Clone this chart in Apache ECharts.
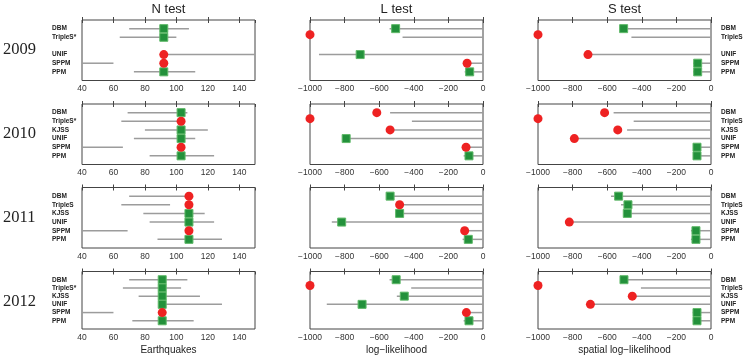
<!DOCTYPE html>
<html>
<head>
<meta charset="utf-8">
<script src="https://cdn.jsdelivr.net/npm/echarts@6/dist/echarts.min.js"></script>
<style>
  html, body { margin: 0; padding: 0; background: #fff; }
  #chart { width: 750px; height: 356px; }
</style>
</head>
<body>
<div id="chart"></div>
<script>
// rows per panel: DBM, TripleS, KJSS, UNIF, SPPM, PPM (null = model missing that year)
const years = ["2009", "2010", "2011", "2012"];
const nLabels = [
  ["DBM", "TripleS*", "", "UNIF", "SPPM", "PPM"],
  ["DBM", "TripleS*", "KJSS", "UNIF", "SPPM", "PPM"],
  ["DBM", "TripleS", "KJSS", "UNIF", "SPPM", "PPM"],
  ["DBM", "TripleS*", "KJSS", "UNIF", "SPPM", "PPM"]
];
const sLabels = [
  ["DBM", "TripleS", "", "UNIF", "SPPM", "PPM"],
  ["DBM", "TripleS", "KJSS", "UNIF", "SPPM", "PPM"],
  ["DBM", "TripleS", "KJSS", "UNIF", "SPPM", "PPM"],
  ["DBM", "TripleS", "KJSS", "UNIF", "SPPM", "PPM"]
];

// N test: observed count, and the forecast's range
const nValue = [
  [92, 92, null, 92, 92, 92],
  [103, 103, 103, 103, 103, 103],
  [108, 108, 108, 108, 108, 108],
  [91, 91, 91, 91, 91, 91]
];
const nLow = [
  [70, 64, null, 91, 40, 73],
  [69, 65, 80, 73, 40, 83],
  [70, 65, 79, 83, 40, 88],
  [70, 66, 76, 89, 40, 72]
];
const nHigh = [
  [108, 100, null, 150, 60, 112],
  [107, 105, 120, 112, 66, 124],
  [107, 96, 118, 124, 69, 129],
  [107, 103, 115, 129, 60, 111]
];
const nPass = [
  [1, 1, null, 0, 0, 1],
  [1, 0, 1, 1, 0, 1],
  [0, 0, 1, 1, 0, 1],
  [1, 1, 1, 1, 0, 1]
];

// L test: observed log-likelihood, and the simulated range
const lValue = [
  [-505, -1000, null, -710, -92, -77],
  [-614, -1000, -537, -791, -98, -81],
  [-537, -482, -482, -817, -106, -85],
  [-502, -1000, -455, -699, -96, -81]
];
const lLow = [
  [-540, -465, null, -948, -92, -106],
  [-537, -411, -537, -791, -98, -112],
  [-537, -482, -482, -874, -106, -118],
  [-540, -415, -498, -903, -96, -112]
];
const lHigh = [
  [0, 0, null, 0, 0, 0],
  [0, 0, 0, 0, 0, 0],
  [0, 0, 0, 0, 0, 0],
  [0, 0, 0, 0, 0, 0]
];
const lPass = [
  [1, 0, null, 1, 0, 1],
  [0, 0, 0, 1, 0, 1],
  [1, 0, 1, 1, 0, 1],
  [1, 0, 1, 1, 0, 1]
];

// S test: spatial log-likelihood
const sValue = [
  [-505, -1000, null, -711, -77, -77],
  [-615, -1000, -539, -790, -81, -81],
  [-534, -480, -484, -819, -87, -87],
  [-503, -1000, -455, -697, -81, -81]
];
const sLow = [
  [-505, -460, null, -711, -104, -104],
  [-563, -447, -485, -790, -104, -104],
  [-578, -520, -484, -819, -116, -116],
  [-503, -405, -455, -697, -106, -106]
];
const sHigh = lHigh;
const sPass = [
  [1, 0, null, 0, 1, 1],
  [0, 0, 0, 0, 1, 1],
  [1, 1, 1, 0, 1, 1],
  [1, 0, 0, 0, 1, 1]
];

const tests = [
  { title: "N test", axisName: "Earthquakes", value: nValue, low: nLow, high: nHigh, pass: nPass, min: 40, max: 150, interval: 20, labels: nLabels, side: "left" },
  { title: "L test", axisName: "log\u2212likelihood", value: lValue, low: lLow, high: lHigh, pass: lPass, min: -1000, max: 0, interval: 200, labels: null, side: null },
  { title: "S test", axisName: "spatial log\u2212likelihood", value: sValue, low: sLow, high: sHigh, pass: sPass, min: -1000, max: 0, interval: 200, labels: sLabels, side: "right" }
];

const colLeft = [82, 310, 538];
const colWidth = 173;
const rowTop = [20, 104, 187.5, 271.5];
const rowHeight = 60.5;

const GREEN = "#23913b";
const RED = "#ee2222";
const GRAY = "#9c9c9c";
const FRAME = "#444";

const fmtTick = v => (v < 0 ? "\u2212" + (-v) : String(v));

const grid = [], xAxis = [], yAxis = [], series = [], titles = [], graphic = [];

tests.forEach((t, c) => {
  titles.push({
    text: t.title,
    left: colLeft[c] + colWidth / 2,
    top: 3,
    padding: 0,
    textAlign: "center",
    textStyle: { fontFamily: "Liberation Sans", fontSize: 13, fontWeight: "normal", color: "#222" }
  });
  years.forEach((yr, r) => {
    const gi = grid.length;
    grid.push({
      left: colLeft[c], top: rowTop[r], width: colWidth, height: rowHeight,
      show: true, borderColor: FRAME, borderWidth: 1, backgroundColor: "transparent"
    });
    xAxis.push({
      type: "value", gridIndex: gi, min: t.min, max: t.max, interval: t.interval,
      position: "bottom",
      axisLine: { show: false },
      axisTick: { show: true, inside: true, length: 3, lineStyle: { color: FRAME } },
      splitLine: { show: false },
      axisLabel: { fontFamily: "Liberation Sans", fontSize: 8.5, color: "#333", margin: 4, formatter: fmtTick, showMaxLabel: t.max === 0 },
      name: r === years.length - 1 ? t.axisName : "",
      nameLocation: "middle", nameGap: 16,
      nameTextStyle: { fontFamily: "Liberation Sans", fontSize: 10, color: "#222" }
    });
    xAxis.push({
      type: "value", gridIndex: gi, min: t.min, max: t.max, interval: t.interval,
      position: "top",
      axisLine: { show: false },
      axisTick: { show: true, inside: true, length: 3, lineStyle: { color: FRAME } },
      splitLine: { show: false },
      axisLabel: { show: false }
    });
    const labs = t.labels ? t.labels[r] : null;
    yAxis.push({
      type: "value", gridIndex: gi, min: 0, max: 7, interval: 1, inverse: true,
      position: t.side || "left",
      axisLine: { show: false }, axisTick: { show: false }, splitLine: { show: false },
      axisLabel: {
        show: !!labs,
        align: "left",
        margin: t.side === "left" ? 30 : 10,
        fontFamily: "Liberation Sans", fontSize: 6.5, fontWeight: "bold", color: "#222",
        formatter: v => (labs && v >= 1 && v <= 6 ? labs[v - 1] : "")
      }
    });

    const bars = [], green = [], red = [];
    t.value[r].forEach((v, i) => {
      if (v === null) return;
      const y = i + 1;
      bars.push([t.low[r][i], t.high[r][i], y]);
      // off-scale (-inf) results are parked on the left edge between rows
      const py = v <= t.min ? y - 0.3 : y;
      (t.pass[r][i] ? green : red).push([v, py]);
    });
    series.push({
      type: "custom", xAxisIndex: gi * 2, yAxisIndex: gi, data: bars, z: 2,
      encode: { x: [0, 1], y: 2 },
      renderItem: (params, api) => {
        const y = api.value(2);
        const a = api.coord([api.value(0), y]);
        const b = api.coord([api.value(1), y]);
        return { type: "line", shape: { x1: a[0], y1: a[1], x2: b[0], y2: b[1] }, style: { stroke: GRAY, lineWidth: 1.5 } };
      }
    });
    series.push({
      type: "scatter", xAxisIndex: gi * 2, yAxisIndex: gi, data: green, z: 3,
      symbol: "rect", symbolSize: 8,
      itemStyle: { color: GREEN, borderColor: "#5fb868", borderWidth: 1, opacity: 1 }
    });
    series.push({
      type: "scatter", xAxisIndex: gi * 2, yAxisIndex: gi, data: red, z: 4,
      symbol: "circle", symbolSize: 9,
      itemStyle: { color: RED, opacity: 1 }
    });
  });
});

years.forEach((yr, r) => {
  graphic.push({
    type: "text", left: 3, top: rowTop[r] + rowHeight / 2 - 9,
    style: { text: yr, fontFamily: "Liberation Serif", fontSize: 16.5, fill: "#222" }
  });
});

const chart = echarts.init(document.getElementById("chart"));
chart.setOption({
  animation: false,
  backgroundColor: "#fff",
  title: titles,
  grid: grid,
  xAxis: xAxis,
  yAxis: yAxis,
  series: series,
  graphic: graphic
});
</script>
</body>
</html>
